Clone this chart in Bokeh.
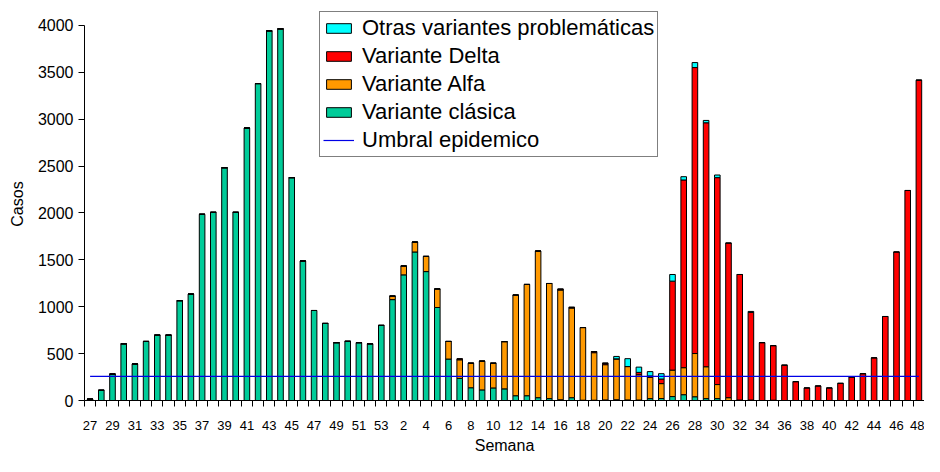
import numpy as np
from bokeh.plotting import figure
from bokeh.models import (FixedTicker, Legend, LegendItem, ColumnDataSource, Range1d)
from bokeh.embed import file_html
from bokeh.resources import INLINE

# ---------------- data ----------------
semanas_2020 = list(range(27, 54))
semanas_2021 = list(range(1, 49))
semanas = semanas_2020 + semanas_2021

clasica_2020 = [15, 109, 282, 605, 390, 630, 697, 697, 1065, 1135, 1986, 2007, 2483, 2007,
                2906, 3380, 3943, 3964, 2377, 1488, 960, 822, 617, 631, 617, 605, 801]
clasica_2021 = [1076, 1340, 1584, 1375, 992, 442, 236, 136, 113, 134, 124, 51, 51, 30, 20, 8,
                30, 3, 3, 6, 8, 6, 5, 20, 21, 42, 62, 40, 20, 20,
                0, 0, 0, 0, 0, 0, 0, 0, 0, 0, 0, 0, 0, 0, 0, 0, 0, 0]

alfa_2020 = [0] * 27
alfa_2021 = [38, 95, 106, 162, 198, 188, 198, 262, 307, 264, 504, 1074, 1187, 1564, 1228, 1170,
             956, 775, 507, 376, 436, 356, 270, 227, 159, 282, 288, 461, 340, 150,
             30, 5, 5, 0, 3, 0, 0, 0, 0, 0, 0, 0, 0, 0, 0, 0, 0, 0]

delta_2020 = [0] * 27
delta_2021 = [0, 0, 0, 0, 0, 0, 10, 0, 0, 0, 0, 0, 0, 0, 0, 10,
              8, 0, 12, 16, 0, 0, 25, 15, 49, 949, 2002, 3050, 2602, 2207,
              1649, 1339, 935, 617, 582, 377, 201, 134, 155, 134, 183, 250, 286, 455, 896,
              1584, 2240, 3417]

otras_2020 = [0] * 27
otras_2021 = [0, 0, 0, 0, 0, 0, 0, 0, 0, 0, 0, 0, 0, 0, 0, 0,
              0, 0, 0, 0, 26, 84, 56, 46, 57, 71, 35, 53, 25, 28,
              0, 0, 10, 0, 0, 0, 0, 0, 0, 0, 0, 0, 0, 0, 0, 0, 0, 0]

umbral = 258

y_ticks = list(range(0, 4001, 500))

series = ["clasica", "alfa", "delta", "otras"]
labels = {"otras": "Otras variantes problemáticas",
          "delta": "Variante Delta",
          "alfa": "Variante Alfa",
          "clasica": "Variante clásica"}
colors = {"clasica": "#00CC99", "alfa": "#FF9900", "delta": "#FF0000", "otras": "#00FFFF"}

# ---------------- figure ----------------
FONT = "Liberation Sans"
idx = np.arange(len(semanas))

src = ColumnDataSource(dict(
    x=idx,
    clasica=clasica_2020 + clasica_2021,
    alfa=alfa_2020 + alfa_2021,
    delta=delta_2020 + delta_2021,
    otras=otras_2020 + otras_2021,
))

# frame extends a little above the 4000 tick so the legend (which sits above it) is not clipped
p = figure(width=924, height=456, output_backend="svg", toolbar_location=None,
           x_range=Range1d(-0.5, len(semanas) - 0.5), y_range=Range1d(0, 4191.5),
           min_border_left=84, min_border_right=0, min_border_top=7, min_border_bottom=55)
p.outline_line_color = None
p.xgrid.visible = False
p.ygrid.visible = False
p.background_fill_color = "white"
p.border_fill_color = "white"

rs = p.vbar_stack(series, x="x", width=0.5, source=src,
                  fill_color=[colors[s] for s in series],
                  line_color="black", line_width=1)
rmap = dict(zip(series, rs))

r_umbral = p.line(x=[idx[0], idx[-1]], y=[umbral, umbral], line_color="#0000E6", line_width=1.2)

# y axis
p.yaxis.bounds = (y_ticks[0], y_ticks[-1])
p.yaxis.ticker = FixedTicker(ticks=y_ticks)
p.yaxis.major_tick_out = 6
p.yaxis.major_tick_in = 0
p.yaxis.minor_tick_out = 0
p.yaxis.minor_tick_in = 0
p.yaxis.major_label_standoff = 5
p.yaxis.major_label_text_font = FONT
p.yaxis.major_label_text_font_size = "16px"
p.yaxis.major_label_text_color = "black"
p.yaxis.axis_line_color = "black"
p.yaxis.major_tick_line_color = "black"
p.yaxis.axis_label = "Casos"
p.yaxis.axis_label_text_font = FONT
p.yaxis.axis_label_text_font_size = "16px"
p.yaxis.axis_label_text_font_style = "normal"
p.yaxis.axis_label_text_color = "black"
p.yaxis.axis_label_standoff = 9

# x axis
p.xaxis.ticker = FixedTicker(ticks=list(idx[::2]),
                             minor_ticks=list(np.arange(-0.5, len(semanas), 1.0)))
p.xaxis.major_label_overrides = {int(i): str(semanas[i]) for i in idx[::2]}
p.xaxis.major_tick_out = 0
p.xaxis.major_tick_in = 0
p.xaxis.minor_tick_out = 6
p.xaxis.minor_tick_in = 0
p.xaxis.minor_tick_line_color = "black"
p.xaxis.axis_line_color = "black"
p.xaxis.major_label_standoff = 14
p.xaxis.major_label_text_font = FONT
p.xaxis.major_label_text_font_size = "13px"
p.xaxis.major_label_text_color = "black"
p.xaxis.axis_label = "Semana"
p.xaxis.axis_label_text_font = FONT
p.xaxis.axis_label_text_font_size = "16px"
p.xaxis.axis_label_text_font_style = "normal"
p.xaxis.axis_label_text_color = "black"
p.xaxis.axis_label_standoff = 4

legend = Legend(items=[
    LegendItem(label=labels["otras"], renderers=[rmap["otras"]]),
    LegendItem(label=labels["delta"], renderers=[rmap["delta"]]),
    LegendItem(label=labels["alfa"], renderers=[rmap["alfa"]]),
    LegendItem(label=labels["clasica"], renderers=[rmap["clasica"]]),
    LegendItem(label="Umbral epidemico", renderers=[r_umbral]),
], location=(235, 243))
legend.label_text_font = FONT
legend.label_text_font_size = "22px"
legend.label_text_color = "black"
legend.glyph_width = 31
legend.glyph_height = 12
legend.label_standoff = 8
legend.label_height = 22
legend.spacing = 2
legend.padding = 3
legend.margin = 0
legend.border_line_color = "black"
legend.border_line_width = 1
legend.background_fill_color = "white"
legend.background_fill_alpha = 1
p.add_layout(legend)

open("out.html", "w").write(file_html(p, INLINE))
